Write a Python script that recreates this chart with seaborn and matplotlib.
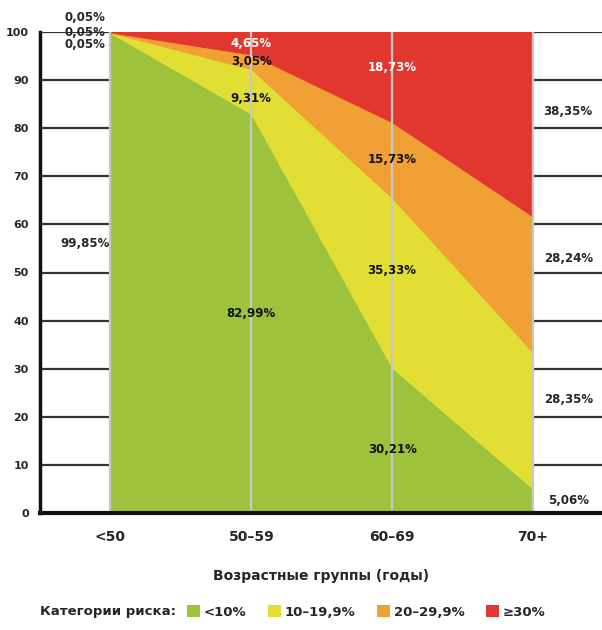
import matplotlib
matplotlib.use("Agg")
import matplotlib.pyplot as plt
from matplotlib.patches import Patch
import seaborn as sns

# Data (share of people by risk category, %)
age_groups = ["<50", "50–59", "60–69", "70+"]
risk_low = [99.85, 82.99, 30.21, 5.06]      # <10%
risk_mid = [0.05, 9.31, 35.33, 28.35]       # 10–19,9%
risk_high = [0.05, 3.05, 15.73, 28.24]      # 20–29,9%
risk_vhigh = [0.05, 4.65, 18.73, 38.35]     # >=30%
risk_names = ["<10%", "10–19,9%", "20–29,9%", "≥30%"]
y_ticks = [0, 10, 20, 30, 40, 50, 60, 70, 80, 90, 100]

colors = ["#9dc33d", "#e3de33", "#f1a035", "#e2372f"]

sns.set_theme(style="white")
plt.rcParams["font.family"] = ["Liberation Sans Narrow", "DejaVu Sans"]

fig = plt.figure(figsize=(6.02, 6.3), dpi=100)
ax = fig.add_axes([40 / 602, (630 - 513) / 630, 1 - 40 / 602, (513 - 32) / 630])

x = list(range(len(age_groups)))
series = [risk_low, risk_mid, risk_high, risk_vhigh]

# horizontal lines behind the areas
for v in y_ticks:
    ax.axhline(v, color="#333333", lw=1.6, zorder=0)

polys = ax.stackplot(x, *series, colors=colors, zorder=1)
for p, c in zip(polys, colors):
    p.set_edgecolor(c)
    p.set_linewidth(0.8)

# vertical category lines over the areas
for xi in x:
    ax.axvline(xi, color="#c8c8c8", lw=1.6, zorder=2)

ax.set_xlim(-0.5, 3.49)
ax.set_ylim(0, 100)
ax.set_yticks(y_ticks)
ax.set_yticklabels([str(v) for v in y_ticks], fontsize=8, fontweight="bold")
ax.set_xticks(x)
ax.set_xticklabels(age_groups, fontsize=10, fontweight="bold")
ax.tick_params(axis="x", length=0, pad=12)
ax.tick_params(axis="y", length=0, pad=8)

sns.despine(ax=ax, top=True, right=True)
ax.spines["left"].set_linewidth(2.5)
ax.spines["left"].set_color("#111111")
ax.spines["bottom"].set_linewidth(3)
ax.spines["bottom"].set_color("#111111")
ax.spines["left"].set_zorder(3)
ax.spines["bottom"].set_zorder(3)

ax.set_xlabel("Возрастные группы (годы)", fontsize=10, fontweight="bold", labelpad=18)

# value labels
def fmt(v):
    return f"{v:.2f}".replace(".", ",") + "%"

lab_kw = dict(fontsize=8.5, fontweight="bold", zorder=4)

# <50: labels to the left of the line
ax.text(-0.18, 56, fmt(risk_low[0]), ha="center", va="center", **lab_kw)
ax.text(-0.18, 103, fmt(risk_vhigh[0]), ha="center", va="center", clip_on=False, **lab_kw)
ax.text(-0.18, 100, fmt(risk_high[0]), ha="center", va="center", **lab_kw)
ax.text(-0.18, 97.3, fmt(risk_mid[0]), ha="center", va="center", **lab_kw)

# middle groups: labels centred in each band
for i in [1, 2]:
    base = 0
    for k, s in enumerate(series):
        mid = base + s[i] / 2
        if i == 2 and k == 3:
            mid += 2
        if i == 1 and k == 1:
            mid -= 1.5
        if i == 2 and k == 1:
            mid += 2.5
        if i == 2 and k == 0:
            mid -= 2
        col = "white" if k == 3 else "#111111"
        ax.text(i, mid, fmt(s[i]), ha="center", va="center", color=col, **lab_kw)
        base += s[i]

# 70+: labels to the right
right_y = [2.5, 23.5, 53, 83.5]
for k, s in enumerate(series):
    ax.text(3.25, right_y[k], fmt(s[3]), ha="center", va="center", **lab_kw)

# legend row
fig.text(40 / 602, 1 - 612 / 630, "Категории риска:", fontsize=9.5,
         fontweight="bold", va="center", ha="left")
handles = [Patch(facecolor=c, edgecolor="none") for c in colors]
fig.legend(handles, risk_names, ncol=4, loc="center left",
           bbox_to_anchor=(175 / 602, 1 - 612 / 630), frameon=False,
           handlelength=1.0, handleheight=1.0, handletextpad=0.3,
           columnspacing=1.6, prop={"weight": "bold", "size": 9.5})

fig.savefig("out.png", dpi=100)
plt.close(fig)
